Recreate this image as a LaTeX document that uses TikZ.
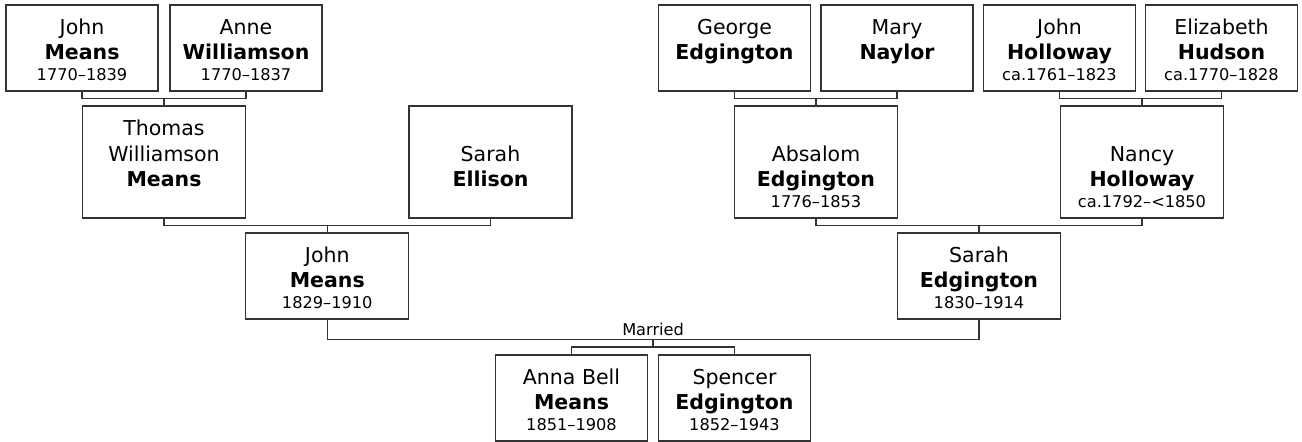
\documentclass[tikz,border=0pt]{standalone}
\usepackage{fontspec}
\setmainfont{DejaVu Sans}
\newcommand\fnm{\fontsize{20.5}{24}\selectfont}
\newcommand\fdt{\fontsize{16.2}{18}\selectfont}
\tikzset{
  pbox/.style={draw=black!80, line width=1.4pt, inner sep=0pt},
  small/.style={pbox, minimum width=152pt, minimum height=86pt},
  large/.style={pbox, minimum width=163pt, minimum height=112pt},
  mid/.style={pbox, minimum width=163pt, minimum height=86pt},
  nm/.style={anchor=base, font=\fnm, inner sep=0pt},
  ln/.style={anchor=base, font=\fnm\bfseries, inner sep=0pt},
  dt/.style={anchor=base, font=\fdt, inner sep=0pt},
  conn/.style={draw=black!80, line width=1.3pt}
}
\begin{document}
\begin{tikzpicture}[x=1pt,y=-1pt]
\useasboundingbox (0,0) rectangle (1302,442);
% ---- top row (y 5..91)
\node[small] (jm1) at (82,48) {};
\node[nm] (jm1a) at (82,34.4) {John};
\node[ln] (jm1b) at (82,59.7) {Means};
\node[dt] (jm1c) at (82,80.5) {1770–1839};
\node[small] (aw) at (246,48) {};
\node[nm] (awa) at (246,34.4) {Anne};
\node[ln] (awb) at (246,59.7) {Williamson};
\node[dt] (awc) at (246,80.5) {1770–1837};
\node[small] (ge) at (734.5,48) {};
\node[nm] (gea) at (734.5,34.4) {George};
\node[ln] (geb) at (734.5,59.7) {Edgington};
\node[small] (mn) at (897,48) {};
\node[nm] (mna) at (897,34.4) {Mary};
\node[ln] (mnb) at (897,59.7) {Naylor};
\node[small] (jh) at (1059.5,48) {};
\node[nm] (jha) at (1059.5,34.4) {John};
\node[ln] (jhb) at (1059.5,59.7) {Holloway};
\node[dt] (jhc) at (1059.5,80.5) {ca.1761–1823};
\node[small] (eh) at (1221.5,48) {};
\node[nm] (eha) at (1221.5,34.4) {Elizabeth};
\node[ln] (ehb) at (1221.5,59.7) {Hudson};
\node[dt] (ehc) at (1221.5,80.5) {ca.1770–1828};
% ---- second row (y 106..218)
\node[large] (tw) at (164,162) {};
\node[nm] (twa) at (164,135.4) {Thomas};
\node[nm] (twb) at (164,161.4) {Williamson};
\node[ln] (twc) at (164,186.7) {Means};
\node[large] (se) at (490.5,162) {};
\node[nm] (sea) at (490.5,161.4) {Sarah};
\node[ln] (seb) at (490.5,186.7) {Ellison};
\node[large] (ae) at (816,162) {};
\node[nm] (aea) at (816,161.4) {Absalom};
\node[ln] (aeb) at (816,186.7) {Edgington};
\node[dt] (aec) at (816,207.5) {1776–1853};
\node[large] (nh) at (1142,162) {};
\node[nm] (nha) at (1142,161.4) {Nancy};
\node[ln] (nhb) at (1142,186.7) {Holloway};
\node[dt] (nhc) at (1142,207.5) {ca.1792–<1850};
% ---- third row (y 233..319)
\node[mid] (jm2) at (327.25,276) {};
\node[nm] (jm2a) at (327.25,262.4) {John};
\node[ln] (jm2b) at (327.25,287.7) {Means};
\node[dt] (jm2c) at (327.25,308.5) {1829–1910};
\node[mid] (sed) at (979,276) {};
\node[nm] (seda) at (979,262.4) {Sarah};
\node[ln] (sedb) at (979,287.7) {Edgington};
\node[dt] (sedc) at (979,308.5) {1830–1914};
% ---- children (y 355..441)
\node[small] (ab) at (571.5,398) {};
\node[nm] (aba) at (571.5,384.4) {Anna Bell};
\node[ln] (abb) at (571.5,409.7) {Means};
\node[dt] (abc) at (571.5,430.5) {1851–1908};
\node[small] (sp) at (734.5,398) {};
\node[nm] (spa) at (734.5,384.4) {Spencer};
\node[ln] (spb) at (734.5,409.7) {Edgington};
\node[dt] (spc) at (734.5,430.5) {1852–1943};
% ---- connectors
\coordinate (p1) at (164,98.5);
\draw[conn] (jm1.south) |- (p1) -| (aw.south);
\draw[conn] (p1) -- (tw.north);
\coordinate (p2) at (816,98.5);
\draw[conn] (ge.south) |- (p2) -| (mn.south);
\draw[conn] (p2) -- (ae.north);
\coordinate (p3) at (1142,98.5);
\draw[conn] (jh.south) |- (p3) -| (eh.south);
\draw[conn] (p3) -- (nh.north);
\coordinate (p4) at (327.25,225.5);
\draw[conn] (tw.south) |- (p4) -| (se.south);
\draw[conn] (p4) -- (jm2.north);
\coordinate (p5) at (979,225.5);
\draw[conn] (ae.south) |- (p5) -| (nh.south);
\draw[conn] (p5) -- (sed.north);
\coordinate (m) at (653.1,339.5);
\draw[conn] (jm2.south) |- (m) -| (sed.south);
\node[dt] (married) at (653.1,335.5) {Married};
\coordinate (c) at (653.1,347);
\draw[conn] (m) -- (c);
\draw[conn] (ab.north) |- (c) -| (sp.north);
\end{tikzpicture}
\end{document}
